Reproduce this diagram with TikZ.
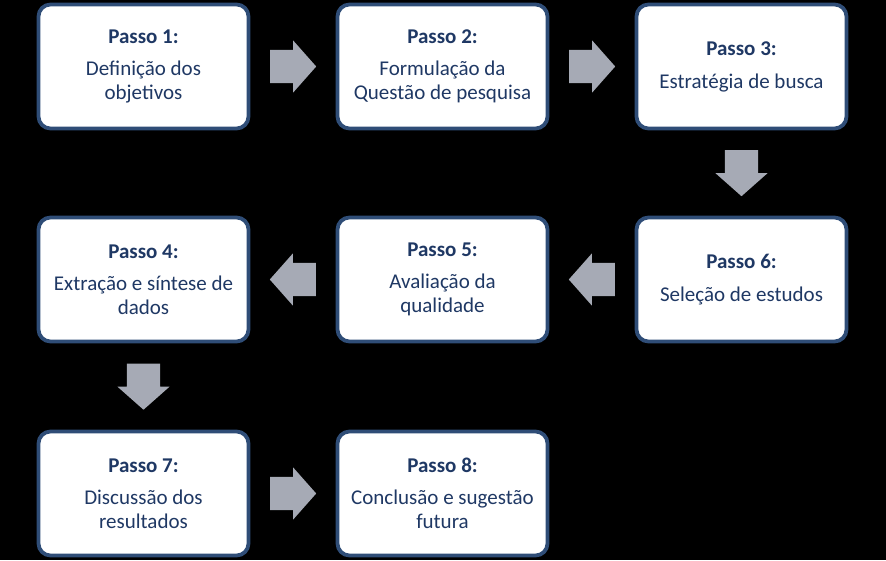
\documentclass[tikz,border=0pt]{standalone}
\usepackage{fontspec}
\setmainfont{Carlito}
\usetikzlibrary{shapes.arrows,calc}
\definecolor{passoborder}{HTML}{2F4D77}
\definecolor{passotext}{HTML}{1F3864}
\definecolor{setagray}{HTML}{A6AAB5}
\tikzset{
  passo/.style={draw=passoborder, line width=3.8pt, fill=white, rounded corners=12pt,
    minimum width=210pt, minimum height=124pt, align=center, text=passotext,
    font=\fontsize{21}{24}\selectfont, inner sep=0pt},
  seta/.style={single arrow, fill=setagray, draw=none, minimum height=46pt,
    inner xsep=0pt, inner ysep=16.5pt, single arrow head extend=9.5pt,
    single arrow tip angle=97, anchor=tail}
}
\begin{document}
\begin{tikzpicture}[x=1pt,y=1pt]
\fill[black] (0,0) rectangle (886,-560);
\useasboundingbox (0,0) rectangle (886,-560);
% linha 1
\node[passo] (p1) at (143.5,-66.5) {\textbf{Passo 1:}\\[8pt] Definição dos\\objetivos};
\node[passo] (p2) at (442.5,-66.5) {\textbf{Passo 2:}\\[8pt] Formulação da\\Questão de pesquisa};
\node[passo] (p3) at (741.5,-66.5) {\textbf{Passo 3:}\\[9pt] Estratégia de busca};
% linha 2
\node[passo] (p4) at (143.5,-279.5) {\textbf{Passo 4:}\\[8pt] Extração e síntese de\\dados};
\node[passo] (p5) at (442.5,-279.5) {\textbf{Passo 5:}\\[8pt] Avaliação da\\qualidade};
\node[passo] (p6) at (741.5,-279.5) {\textbf{Passo 6:}\\[9pt] Seleção de estudos};
% linha 3
\node[passo] (p7) at (143.5,-493.5) {\textbf{Passo 7:}\\[8pt] Discussão dos\\resultados};
\node[passo] (p8) at (442.5,-493.5) {\textbf{Passo 8:}\\[8pt] Conclusão e sugestão\\futura};
% setas (centradas entre as caixas)
\coordinate (m12) at ($(p1.east)!0.5!(p2.west)$);
\coordinate (m23) at ($(p2.east)!0.5!(p3.west)$);
\coordinate (m36) at ($(p3.south)!0.5!(p6.north)$);
\coordinate (m65) at ($(p6.west)!0.5!(p5.east)$);
\coordinate (m54) at ($(p5.west)!0.5!(p4.east)$);
\coordinate (m47) at ($(p4.south)!0.5!(p7.north)$);
\coordinate (m78) at ($(p7.east)!0.5!(p8.west)$);
\node[seta] (s12) at ($(m12)!23pt!(p1.east)$) {};
\node[seta] (s23) at ($(m23)!23pt!(p2.east)$) {};
\node[seta, rotate=-90] (s36) at ($(m36)!23pt!(p3.south)$) {};
\node[seta, rotate=180] (s65) at ($(m65)!23pt!(p6.west)$) {};
\node[seta, rotate=180] (s54) at ($(m54)!23pt!(p5.west)$) {};
\node[seta, rotate=-90] (s47) at ($(m47)!23pt!(p4.south)$) {};
\node[seta] (s78) at ($(m78)!23pt!(p7.east)$) {};
\end{tikzpicture}
\end{document}
